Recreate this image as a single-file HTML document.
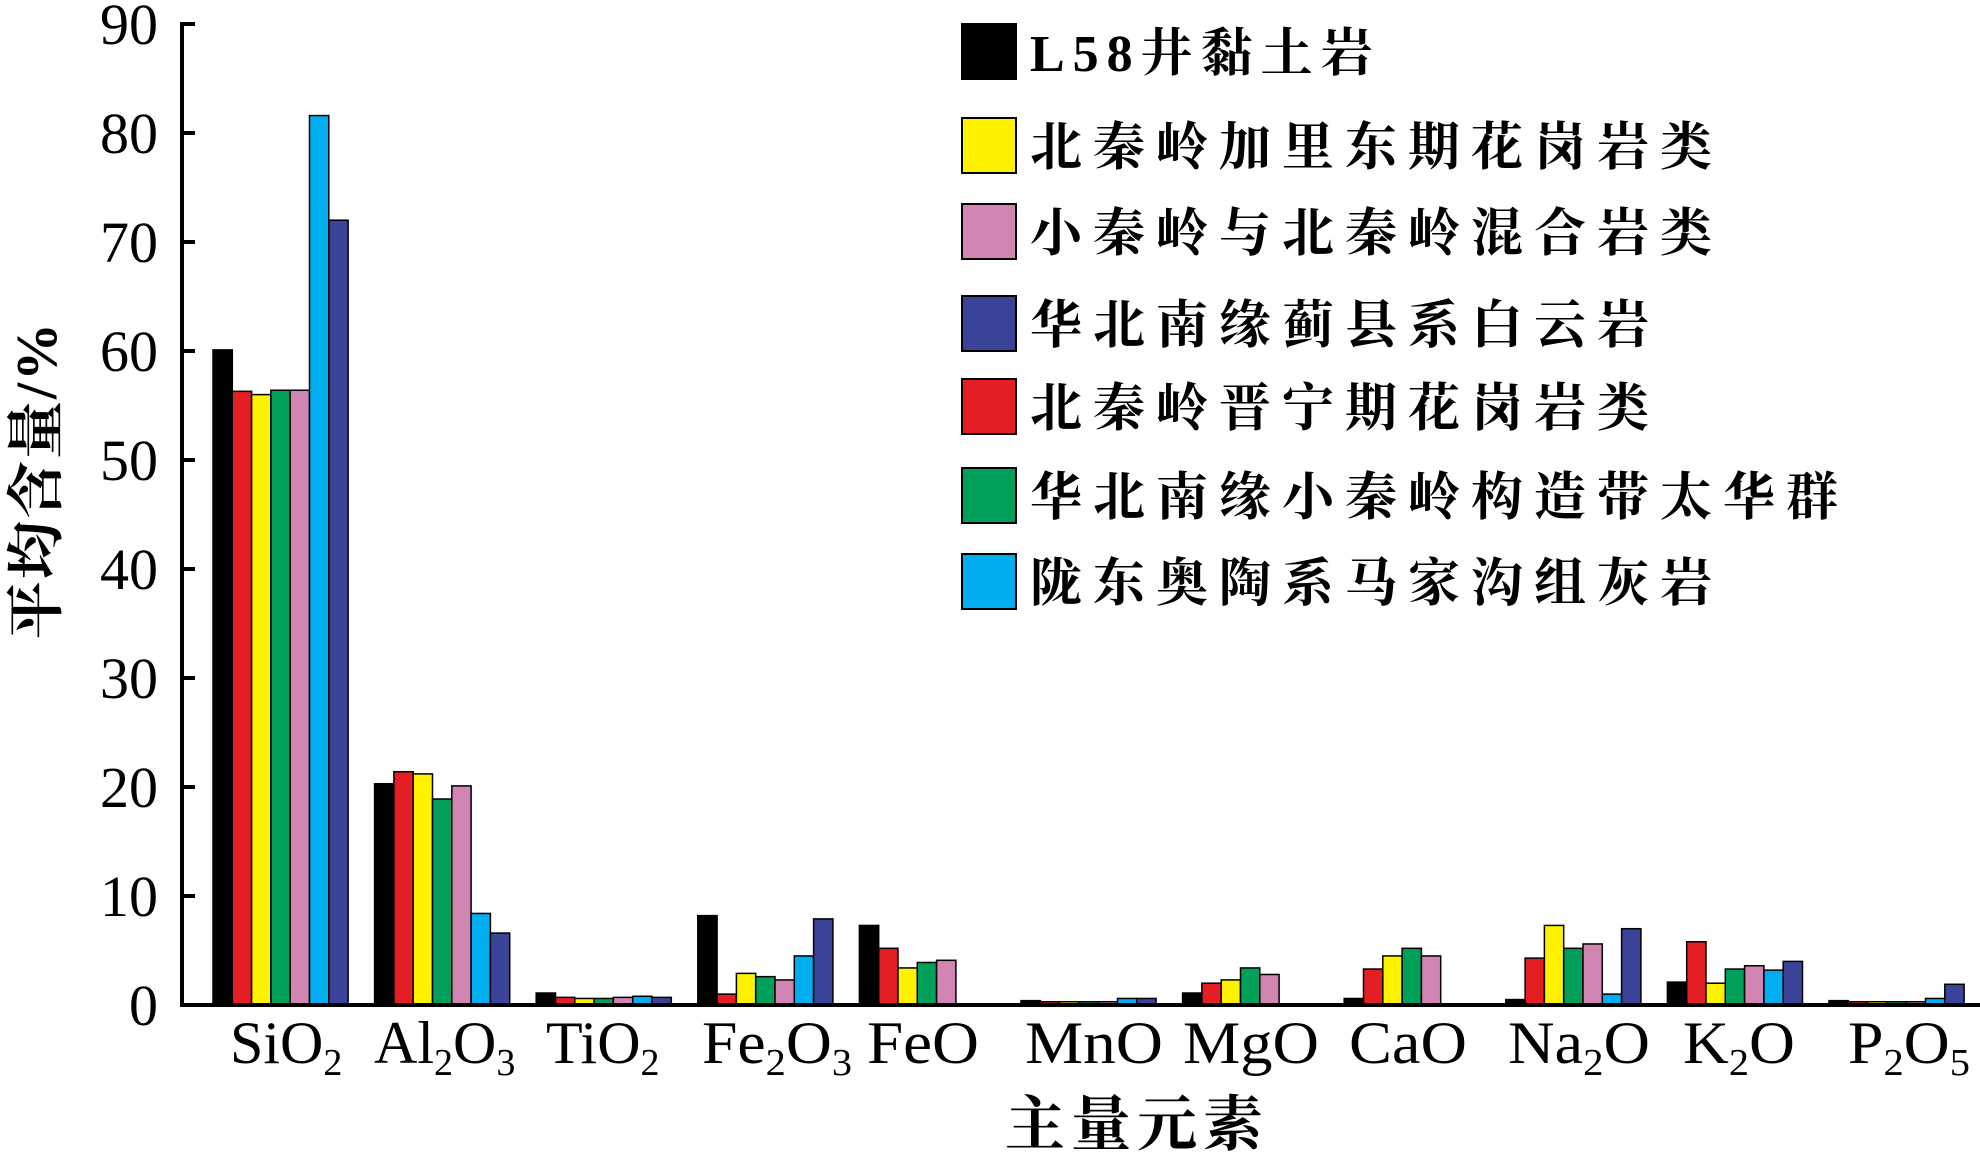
<!DOCTYPE html>
<html><head><meta charset="utf-8"><style>
html,body{margin:0;padding:0;background:#fff;}
svg{display:block;}
</style></head><body>
<svg width="1980" height="1158" xmlns="http://www.w3.org/2000/svg">
<g id="bars" stroke="#000" stroke-width="1.5"></g>
<g stroke="#000" stroke-width="4" fill="none">
<line x1="182" y1="22" x2="182" y2="1007"/>
<line x1="180" y1="1005" x2="1980" y2="1005"/>
</g>
<g id="ticks" stroke="#000" stroke-width="4"></g>
<g id="ylab" font-family="Liberation Serif, serif" font-size="58" text-anchor="end" fill="#000"></g>
<text transform="translate(56,480) rotate(-90)" font-family="Liberation Serif, 'Noto Serif CJK SC', serif" font-size="58" font-weight="bold" text-anchor="middle" letter-spacing="2">平均含量/%</text>
<g font-family="Liberation Serif, serif" font-size="60" fill="#000">
<text x="230" y="1063">SiO<tspan font-size="38" dy="12">2</tspan></text>
<text x="374" y="1063">Al<tspan font-size="38" dy="12">2</tspan><tspan dy="-12">O</tspan><tspan font-size="38" dy="12">3</tspan></text>
<text x="546" y="1063">TiO<tspan font-size="38" dy="12">2</tspan></text>
<text x="702" y="1063" textLength="150" lengthAdjust="spacingAndGlyphs">Fe<tspan font-size="38" dy="12">2</tspan><tspan dy="-12">O</tspan><tspan font-size="38" dy="12">3</tspan></text>
<text x="867" y="1063" textLength="112" lengthAdjust="spacingAndGlyphs">FeO</text>
<text x="1025" y="1063" textLength="138" lengthAdjust="spacingAndGlyphs">MnO</text>
<text x="1183" y="1063" textLength="136" lengthAdjust="spacingAndGlyphs">MgO</text>
<text x="1349" y="1063" textLength="118" lengthAdjust="spacingAndGlyphs">CaO</text>
<text x="1508" y="1063" textLength="142" lengthAdjust="spacingAndGlyphs">Na<tspan font-size="38" dy="12">2</tspan><tspan dy="-12">O</tspan></text>
<text x="1683" y="1063" textLength="112" lengthAdjust="spacingAndGlyphs">K<tspan font-size="38" dy="12">2</tspan><tspan dy="-12">O</tspan></text>
<text x="1848" y="1063" textLength="122" lengthAdjust="spacingAndGlyphs">P<tspan font-size="38" dy="12">2</tspan><tspan dy="-12">O</tspan><tspan font-size="38" dy="12">5</tspan></text>
</g>
<text x="1137" y="1145" font-family="Liberation Serif, 'Noto Serif CJK SC', serif" font-size="60" font-weight="bold" text-anchor="middle" letter-spacing="6">主量元素</text>
<g id="legend" font-family="Liberation Serif, 'Noto Serif CJK SC', serif" font-size="52" font-weight="bold" fill="#000"></g>
</svg>
<script>
var NS="http://www.w3.org/2000/svg";
var cols=["#000000","#e31e24","#fff200","#00a05a","#d085b2","#00aeef","#3a4398"];
var data=[[60.1,56.3,56,56.4,56.4,81.6,72],[20.3,21.4,21.2,18.9,20.1,8.4,6.6],[1.1,0.7,0.6,0.6,0.7,0.8,0.7],[8.2,1.0,2.9,2.6,2.3,4.5,7.9],[7.3,5.2,3.4,3.9,4.1,0,0],[0.4,0.3,0.3,0.3,0.3,0.6,0.6],[1.1,2.0,2.3,3.4,2.8,0,0],[0.6,3.3,4.5,5.2,4.5,0,0],[0.5,4.3,7.3,5.2,5.6,1.0,7.0],[2.1,5.8,2.0,3.3,3.6,3.2,4.0],[0.4,0.3,0.3,0.3,0.3,0.6,1.9]];
var g=document.getElementById("bars");
function el(n,a,p){var e=document.createElementNS(NS,n);for(var k in a)e.setAttribute(k,a[k]);p.appendChild(e);return e;}
for(var i=0;i<data.length;i++)for(var j=0;j<7;j++){var v=data[i][j];if(v<=0)continue;var h=v*10.9;
el("rect",{x:213+i*161.6+j*19.3,y:1005-h,width:19.3,height:h,fill:cols[j]},g);}
var t=document.getElementById("ticks"),yl=document.getElementById("ylab");
for(var k=0;k<=9;k++){var y=1005-k*109;el("line",{x1:182,y1:y,x2:195,y2:y},t);
var tx=el("text",{x:158,y:y+20},yl);tx.textContent=String(k*10);}
var L=[["#000000","L58井黏土岩",24],["#fff200","北秦岭加里东期花岗岩类",118],["#d085b2","小秦岭与北秦岭混合岩类",204],["#3a4398","华北南缘蓟县系白云岩",296],["#e31e24","北秦岭晋宁期花岗岩类",379],["#00a05a","华北南缘小秦岭构造带太华群",468],["#00aeef","陇东奥陶系马家沟组灰岩",554]];
var lg=document.getElementById("legend");
L.forEach(function(r,i){el("rect",{x:962,y:r[2],width:54,height:55,fill:r[0],stroke:"#000","stroke-width":2},lg);
var tx=el("text",{x:1030,y:r[2]+47,"letter-spacing":i==0?8:11},lg);tx.textContent=r[1];});
</script>
</body></html>
